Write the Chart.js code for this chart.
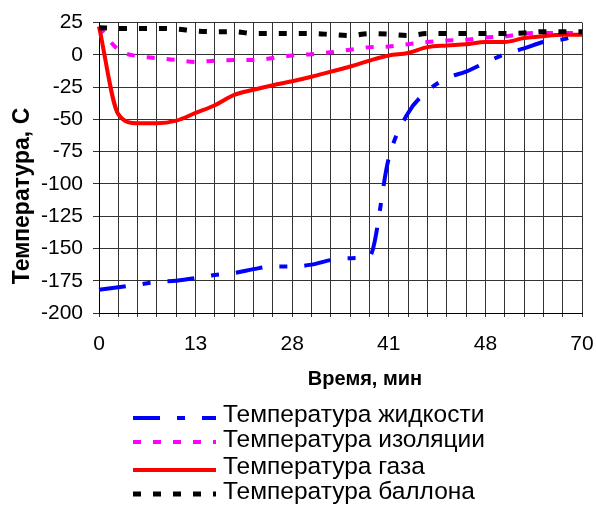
<!DOCTYPE html>
<html>
<head>
<meta charset="utf-8">
<script src="https://cdn.jsdelivr.net/npm/chart.js@4/dist/chart.umd.min.js"></script>
<style>
    html, body { margin: 0; padding: 0; background: #fff; }
    #wrap { width: 596px; height: 506px; }
</style>
</head>
<body>
<div id="wrap"><canvas id="tempChart" width="596" height="506"></canvas></div>
<script>
// Time, min (only every 5th label is shown on the axis)
const times = [0, 2, 5, 7, 10, 13, 16, 19, 22, 25, 28, 31, 34, 37, 39, 41, 42, 43, 44, 46, 48, 52, 57, 61, 66, 70];

const liquidTemp = [-182, -180, -178, -176, -175, -173, -170.5, -169, -166, -164, -164, -162.5, -159, -157.5, -156, -80, -45, -28, -18, -13, -6, 0.5, 5, 10, 12, 16];
const insulationTemp = [22, 4, -1, -2.5, -4, -5.5, -4.5, -4, -4, -2.5, -0.5, 0.5, 2, 4, 6, 6.5, 8.3, 10, 11.2, 11.7, 13.5, 14.2, 16.5, 17, 17, 17];
const gasTemp = [22, -46, -53, -53, -51, -45, -39, -31, -27, -23.5, -20.5, -17, -13, -9, -4.5, -0.5, 1.5, 6, 7.3, 8.3, 10, 10, 13, 14.5, 15.5, 15.5];
const balloonTemp = [21, 20.5, 20.5, 20.5, 20, 18.5, 18, 18, 16.5, 16.5, 16.5, 16.5, 15.8, 15, 16.5, 16, 15, 16.5, 16.5, 16.5, 16.5, 16.5, 17, 18, 18, 18];

const seriesLabels = ['Температура жидкости', 'Температура изоляции', 'Температура газа', 'Температура баллона'];
const yTitle = 'Температура, С';
const xTitle = 'Время, мин';

const font = 'Liberation Sans, Arial, sans-serif';

// legend below the plot and both axis titles, placed like the Excel ones
const extrasPlugin = {
    id: 'extras',
    afterDraw: (chart) => {
        const ctx = chart.ctx;
        const textRows = [415, 440, 467, 492];
        const lineRows = [418, 442, 470, 494];
        chart.data.datasets.forEach((ds, i) => {
            ctx.save();
            ctx.strokeStyle = ds.borderColor;
            ctx.lineWidth = ds.borderWidth;
            ctx.setLineDash(ds.borderDash || []);
            ctx.beginPath();
            ctx.moveTo(133, lineRows[i]);
            ctx.lineTo(216, lineRows[i]);
            ctx.stroke();
            ctx.restore();
            ctx.save();
            ctx.fillStyle = '#000';
            ctx.font = '24.5px ' + font;
            ctx.textBaseline = 'middle';
            ctx.fillText(ds.label, 223, textRows[i]);
            ctx.restore();
        });

        ctx.save();
        ctx.translate(23, 196);
        ctx.rotate(-Math.PI / 2);
        ctx.fillStyle = '#000';
        ctx.font = 'bold 23px ' + font;
        ctx.textAlign = 'center';
        ctx.textBaseline = 'middle';
        ctx.fillText(yTitle, 0, 0);
        ctx.restore();

        ctx.save();
        ctx.fillStyle = '#000';
        ctx.font = 'bold 20px ' + font;
        ctx.textAlign = 'center';
        ctx.textBaseline = 'middle';
        ctx.fillText(xTitle, 365, 379);
        ctx.restore();
    }
};

const ctx = document.getElementById('tempChart');
new Chart(ctx, {
    type: 'line',
    data: {
        labels: times,
        datasets: [{
            label: seriesLabels[0],
            data: liquidTemp,
            borderColor: '#0000ff',
            borderWidth: 4,
            borderDash: [27, 17, 8, 17],
            order: 4
        }, {
            label: seriesLabels[1],
            data: insulationTemp,
            borderColor: '#ff00ff',
            borderWidth: 4,
            borderDash: [8, 12],
            order: 3
        }, {
            label: seriesLabels[2],
            data: gasTemp,
            borderColor: '#ff0000',
            borderWidth: 4,
            order: 2
        }, {
            label: seriesLabels[3],
            data: balloonTemp,
            borderColor: '#000000',
            borderWidth: 5,
            borderDash: [8, 12],
            order: 1
        }]
    },
    plugins: [extrasPlugin],
    options: {
        responsive: false,
        animation: false,
        elements: {
            point: { radius: 0 },
            line: { cubicInterpolationMode: 'monotone', borderCapStyle: 'butt' }
        },
        layout: {
            padding: { left: 0, top: 21, right: 14, bottom: 113 }
        },
        plugins: {
            legend: { display: false },
            tooltip: { enabled: false }
        },
        scales: {
            x: {
                type: 'category',
                offset: false,
                afterFit: (s) => {
                    s.height = 80;
                    s.paddingLeft = 0;
                    s.paddingRight = 0;
                },
                grid: {
                    color: '#333',
                    lineWidth: 1,
                    tickLength: 4
                },
                border: { color: '#000', width: 1 },
                ticks: {
                    autoSkip: false,
                    maxRotation: 0,
                    padding: 15,
                    color: '#000',
                    font: { family: font, size: 21 },
                    callback: function (v, i) {
                        return i % 5 === 0 ? times[i] : '';
                    }
                }
            },
            y: {
                min: -200,
                max: 25,
                afterFit: (s) => { s.width = 99; },
                grid: {
                    color: '#333',
                    lineWidth: 1,
                    tickLength: 6
                },
                border: { color: '#000', width: 1 },
                ticks: {
                    stepSize: 25,
                    padding: 10,
                    color: '#000',
                    font: { family: font, size: 21 }
                }
            }
        }
    }
});
</script>
</body>
</html>
